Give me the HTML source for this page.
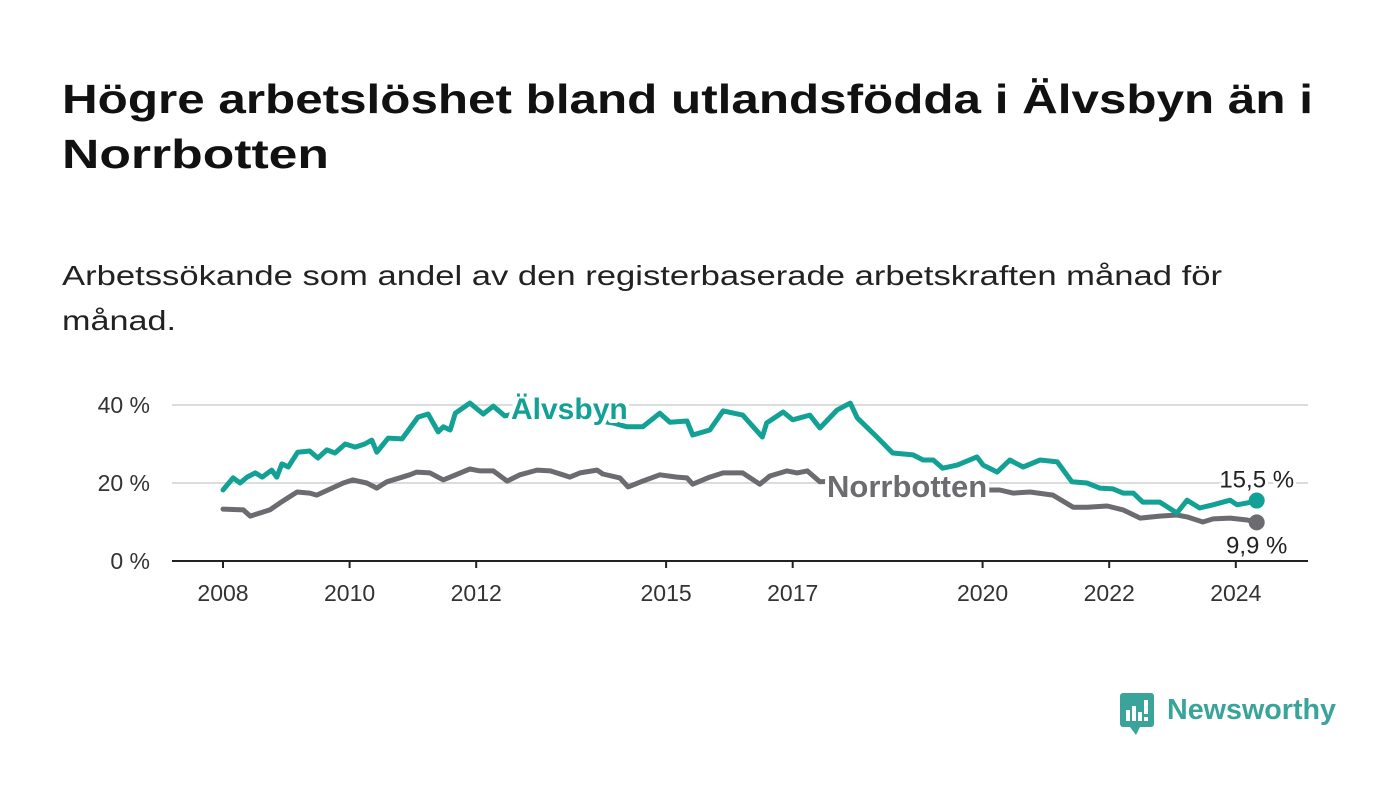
<!DOCTYPE html>
<html><head><meta charset="utf-8">
<style>
html,body{margin:0;padding:0;background:#fff;}
svg{display:block;font-family:"Liberation Sans",sans-serif;}
</style></head>
<body>
<svg id="chart" width="1400" height="794" viewBox="0 0 1400 794" xmlns="http://www.w3.org/2000/svg">
<text x="62" y="113" font-size="41" font-weight="bold" fill="#111" textLength="1251" lengthAdjust="spacingAndGlyphs">Högre arbetslöshet bland utlandsfödda i Älvsbyn än i</text>
<text x="62" y="168" font-size="41" font-weight="bold" fill="#111" textLength="267" lengthAdjust="spacingAndGlyphs">Norrbotten</text>
<text x="62" y="285" font-size="28" fill="#222" textLength="1160" lengthAdjust="spacingAndGlyphs">Arbetssökande som andel av den registerbaserade arbetskraften månad för</text>
<text x="62" y="330" font-size="28" fill="#222" textLength="114" lengthAdjust="spacingAndGlyphs">månad.</text>
<g id="axes"></g>
<g id="series"></g>
<g id="labels"></g>
<g>
<rect x="1120" y="693" width="34" height="34" rx="3" fill="#3aa39a"/>
<path d="M1130 727 L1136 735 L1140 727 Z" fill="#3aa39a"/>
<rect x="1126" y="710" width="4" height="11" fill="#fff"/>
<rect x="1132" y="706" width="4" height="15" fill="#fff"/>
<rect x="1138" y="712" width="4" height="9" fill="#fff"/>
<rect x="1144" y="700" width="4" height="14" fill="#fff"/>
<rect x="1144" y="717" width="4" height="4" fill="#fff"/>
<text x="1167" y="719" font-size="29" font-weight="bold" fill="#3aa39a" textLength="169" lengthAdjust="spacingAndGlyphs">Newsworthy</text>
</g>
</svg>
<script>
const alvYears=[2008.00,2008.16,2008.27,2008.38,2008.51,2008.62,2008.77,2008.85,2008.93,2009.03,2009.18,2009.37,2009.50,2009.64,2009.77,2009.93,2010.09,2010.24,2010.35,2010.43,2010.61,2010.83,2011.08,2011.24,2011.40,2011.48,2011.59,2011.67,2011.90,2012.11,2012.27,2012.45,2012.7,2013.0,2013.3,2013.6,2013.9,2014.16,2014.38,2014.63,2014.90,2015.06,2015.33,2015.42,2015.69,2015.90,2016.21,2016.52,2016.59,2016.85,2017.00,2017.27,2017.43,2017.70,2017.91,2018.02,2018.33,2018.58,2018.90,2019.06,2019.22,2019.37,2019.60,2019.91,2020.01,2020.23,2020.43,2020.64,2020.91,2021.18,2021.41,2021.65,2021.85,2022.06,2022.22,2022.38,2022.53,2022.80,2023.07,2023.23,2023.43,2023.64,2023.91,2024.02,2024.18,2024.33];
const alvValues=[18.2,21.3,20.0,21.5,22.6,21.5,23.3,21.5,24.9,24.1,27.9,28.2,26.4,28.5,27.7,30.0,29.2,30.0,31.0,27.9,31.5,31.3,36.9,37.7,33.1,34.4,33.6,37.9,40.5,37.7,39.7,37.2,38,37,38.5,37,36,35.4,34.4,34.4,37.9,35.6,35.9,32.3,33.6,38.5,37.4,31.8,35.4,38.2,36.2,37.4,34.1,38.7,40.5,36.7,31.8,27.7,27.2,25.9,25.9,23.8,24.6,26.7,24.6,22.8,25.9,24.1,25.9,25.4,20.3,20.0,18.7,18.5,17.4,17.4,15.1,15.1,12.3,15.6,13.6,14.4,15.6,14.4,14.9,15.5];
const norYears=[2008.00,2008.32,2008.43,2008.74,2008.90,2009.17,2009.37,2009.48,2009.90,2010.05,2010.27,2010.43,2010.59,2010.95,2011.06,2011.27,2011.48,2011.90,2012.06,2012.27,2012.49,2012.69,2012.96,2013.17,2013.37,2013.48,2013.64,2013.91,2014.00,2014.27,2014.40,2014.63,2014.90,2015.17,2015.33,2015.42,2015.69,2015.90,2016.21,2016.48,2016.64,2016.91,2017.07,2017.23,2017.43,2017.7,2018.0,2018.5,2019.0,2019.5,2020.0,2020.27,2020.48,2020.75,2021.11,2021.43,2021.65,2021.97,2022.22,2022.49,2022.80,2023.07,2023.23,2023.48,2023.64,2023.91,2024.18,2024.33];
const norValues=[13.3,13.1,11.5,13.1,14.9,17.7,17.4,16.9,20.0,20.8,20.0,18.7,20.3,22.1,22.8,22.6,20.8,23.6,23.1,23.1,20.5,22.1,23.3,23.1,22.1,21.5,22.6,23.3,22.3,21.3,19.0,20.5,22.1,21.5,21.3,19.7,21.5,22.6,22.6,19.7,21.8,23.1,22.6,23.1,20.3,20.5,20,19.5,19,18.5,18.2,18.2,17.4,17.7,16.9,13.8,13.8,14.1,13.1,11.0,11.5,11.8,11.3,10.0,10.8,11.0,10.5,9.9];
const yTicks=[0,20,40];
const yTickLabels=["0 %","20 %","40 %"];
const xTicks=[2008,2010,2012,2015,2017,2020,2022,2024];
const xTickLabels=["2008","2010","2012","2015","2017","2020","2022","2024"];
const endLabels=["15,5 %","9,9 %"];

const NS="http://www.w3.org/2000/svg";
const X=y=>223+(y-2008)*63.3;
const Y=v=>561-v*3.9;
function mk(tag,attrs,parent){const e=document.createElementNS(NS,tag);for(const k in attrs)e.setAttribute(k,attrs[k]);parent.appendChild(e);return e;}
const axes=document.getElementById('axes'),series=document.getElementById('series'),labels=document.getElementById('labels');
yTicks.forEach((t,i)=>{
  if(t>0){const g=mk('line',{x1:172,x2:1308,y1:Y(t),y2:Y(t),stroke:'#dcdcdc','stroke-width':2},axes);
  
  }
  const tx=mk('text',{x:150,y:Y(t)+8,'text-anchor':'end','font-size':23,fill:'#333'},axes);
  tx.textContent=yTickLabels[i];
  
  
});
const ax=mk('line',{x1:172,x2:1308,y1:561,y2:561,stroke:'#222','stroke-width':2},axes);


xTicks.forEach((t,i)=>{
  const tk=mk('line',{x1:X(t),x2:X(t),y1:561,y2:568,stroke:'#222','stroke-width':2},axes);
  
  
  const tx=mk('text',{x:X(t),y:601,'text-anchor':'middle','font-size':23,fill:'#333'},axes);
  tx.textContent=xTickLabels[i];
  
  
});
function line(xs,vs,color,name){
  const d=xs.map((x,i)=>(i?'L':'M')+X(x).toFixed(1)+' '+Y(vs[i]).toFixed(1)).join(' ');
  const p=mk('path',{d:d,fill:'none',stroke:color,'stroke-width':5,'stroke-linejoin':'round','stroke-linecap':'round'},series);
  
  
  const n=xs.length-1;
  const c=mk('circle',{cx:X(xs[n]),cy:Y(vs[n]),r:8,fill:color},series);
  
  
}
line(norYears,norValues,'#6c6b70','norrbotten');
line(alvYears,alvValues,'#12a194','alvsbyn');
function lab(txt,x,y,color,bold,size,anchor,name){
  const t=mk('text',{x:x,y:y,'font-size':size,'font-weight':bold?'bold':'normal',fill:color,'text-anchor':anchor,stroke:'#fff','stroke-width':bold?8:6,'paint-order':'stroke','stroke-linejoin':'round'},labels);
  t.textContent=txt;
  
  
}
lab('Älvsbyn',511,419,'#12a194',true,30,'start','alvsbyn-series-label');
lab('Norrbotten',827,497,'#6c6b70',true,31,'start','norrbotten-series-label');
const na=alvYears.length-1,nn=norYears.length-1;
lab(endLabels[0],X(alvYears[na]),Y(alvValues[na])-13,'#222',false,24,'middle','alvsbyn-end-label');
lab(endLabels[1],X(norYears[nn]),Y(norValues[nn])+31,'#222',false,24,'middle','norrbotten-end-label');
</script>
</body></html>
